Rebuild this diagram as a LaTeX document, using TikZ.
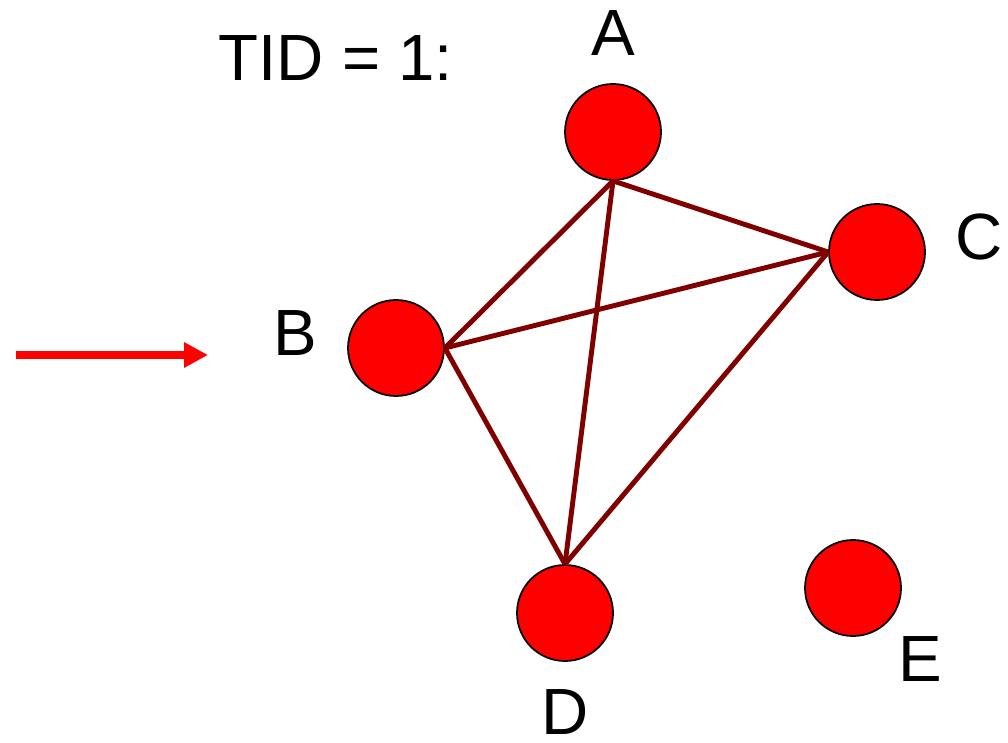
\documentclass[tikz,border=0pt]{standalone}
\usepackage{fontspec}
\setmainfont{Liberation Sans}
\usepackage{tikz}
\usetikzlibrary{arrows.meta}
\definecolor{edgered}{RGB}{128,0,0}

\begin{document}
\begin{tikzpicture}
\tikzstyle{vertex} = [circle, draw=black, line width=0.5pt, fill=red, minimum size=0.96cm, inner sep=0pt]
\tikzstyle{lbl} = [anchor=base, inner sep=0pt, font=\fontsize{18.6}{22}\selectfont]
\useasboundingbox (0,0) rectangle (10.08,7.42);
\node[vertex](A) at (6.13,6.10) {};
\node[vertex](B) at (3.96,3.94) {};
\node[vertex](C) at (8.77,4.90) {};
\node[vertex](D) at (5.65,1.29) {};
\node[vertex](E) at (8.53,1.54) {};
\node[lbl](tid) at (3.36,6.61) {TID = 1:};
\node[lbl](la) at (6.13,6.86) {A};
\node[lbl](lb) at (2.95,3.86) {B};
\node[lbl](lc) at (9.79,4.82) {C};
\node[lbl](ld) at (5.65,0.08) {D};
\node[lbl](le) at (9.20,0.61) {E};
\foreach \from/\to in {A.south/B.east, A.south/C.west, A.south/D.north, B.east/C.west, B.east/D.north, C.west/D.north}
\draw [edgered][line width=1.4pt] (\from) -- (\to);

\coordinate (start) at (0.16,3.87);
\coordinate (stop) at (2.08,3.87);
\draw [-{Triangle[length=0.24cm,width=0.24cm]}][red, line width=2pt] (start) -- (stop);

\end{tikzpicture}
\end{document}
